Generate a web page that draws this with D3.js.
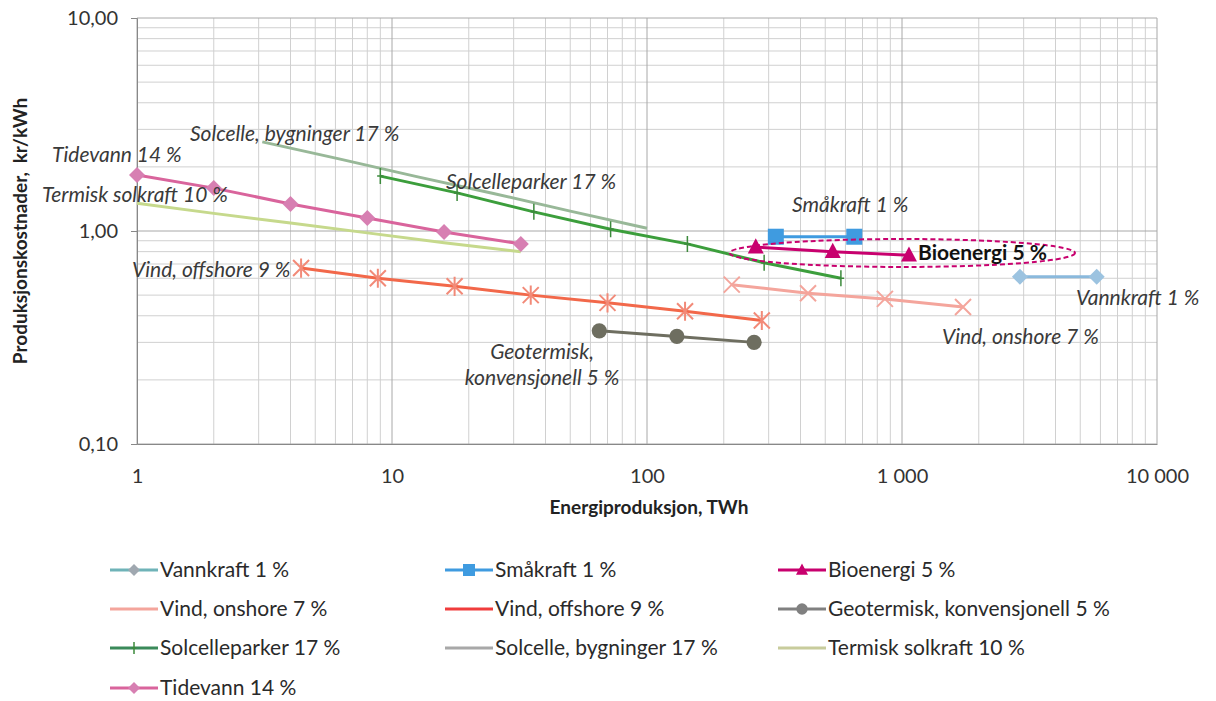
<!DOCTYPE html>
<html lang="no">
<head>
<meta charset="UTF-8">
<title>Produksjonskostnader</title>
<script src="https://d3js.org/d3.v7.min.js"></script>
<style>
  body { margin: 0; background: #fff; }
  text { font-family: Lato, "Open Sans", sans-serif; fill: #333; }
  .lbl { font-size: 21px; font-style: italic; fill: #3a3a3a; }
  .tick text { font-size: 20px; fill: #333; }
  .legend text { font-size: 21px; fill: #2a2a2a; }
</style>
</head>
<body>
<script>
// series data: energy production (TWh) vs production cost (kr/kWh)
const vannkraftX = [2900, 5800];
const vannkraftY = [0.61, 0.61];
const smakraftX = [320, 650];
const smakraftY = [0.94, 0.94];
const bioenergiX = [267, 535, 1065];
const bioenergiY = [0.84, 0.80, 0.77];
const onshoreX = [215, 428, 857, 1735];
const onshoreY = [0.56, 0.51, 0.48, 0.44];
const offshoreX = [4.4, 8.8, 17.6, 35, 70, 141, 282];
const offshoreY = [0.67, 0.60, 0.55, 0.50, 0.46, 0.42, 0.38];
const geoX = [65, 131, 263];
const geoY = [0.34, 0.32, 0.30];
const parkerX = [9, 18, 36, 72, 144, 288, 576];
const parkerY = [1.81, 1.51, 1.23, 1.02, 0.87, 0.71, 0.60];
const bygningX = [3.1, 6.2, 12.5, 25, 50, 100];
const bygningY = [2.62, 2.18, 1.80, 1.50, 1.24, 1.03];
const termiskX = [1, 2, 4, 8, 16, 32];
const termiskY = [1.35, 1.21, 1.09, 0.98, 0.88, 0.80];
const tidevannX = [1, 2, 4, 8, 16, 32];
const tidevannY = [1.83, 1.59, 1.34, 1.15, 0.99, 0.87];

const xTicks = [1, 10, 100, 1000, 10000];
const xTickLabels = ["1", "10", "100", "1 000", "10 000"];
const yTicks = [0.1, 1, 10];
const yTickLabels = ["0,10", "1,00", "10,00"];

const series = [
  {name: "Vannkraft 1 %", x: vannkraftX, y: vannkraftY, color: "#8ab9dc", legendColor: "#6fb3b8", marker: "diamond", mcolor: "#9cc3e0", lmcolor: "#a0a8b0", w: 3},
  {name: "Småkraft 1 %", x: smakraftX, y: smakraftY, color: "#3f9be0", marker: "square", mcolor: "#3f9be0", w: 3},
  {name: "Bioenergi 5 %", x: bioenergiX, y: bioenergiY, color: "#c8006e", marker: "triangle", mcolor: "#c8006e", w: 3},
  {name: "Vind, onshore 7 %", x: onshoreX, y: onshoreY, color: "#f4a59c", marker: "x", mcolor: "#f4a59c", noLegendMarker: true, w: 3},
  {name: "Vind, offshore 9 %", x: offshoreX, y: offshoreY, color: "#f2684a", legendColor: "#f03c3c", marker: "star", mcolor: "#f28a78", noLegendMarker: true, w: 3},
  {name: "Geotermisk, konvensjonell 5 %", x: geoX, y: geoY, color: "#6e6e60", legendColor: "#808080", marker: "circle", mcolor: "#6e6e60", lmcolor: "#808080", w: 3},
  {name: "Solcelleparker 17 %", x: parkerX, y: parkerY, color: "#3c9e3c", legendColor: "#3a8a5a", marker: "plus", mcolor: "#3c8a3c", w: 3},
  {name: "Solcelle, bygninger 17 %", x: bygningX, y: bygningY, color: "#98b898", legendColor: "#a8a8a8", marker: null, w: 3},
  {name: "Termisk solkraft 10 %", x: termiskX, y: termiskY, color: "#c6d98c", legendColor: "#c8cc9c", marker: null, w: 3},
  {name: "Tidevann 14 %", x: tidevannX, y: tidevannY, color: "#d9649c", marker: "diamond", mcolor: "#d77fb2", w: 3}
];

const width = 1216, height = 701;
const margin = {left: 137, top: 18, right: 59, bottom: 257};
const pw = width - margin.left - margin.right;
const ph = height - margin.top - margin.bottom;

const svg = d3.select("body").append("svg")
  .attr("width", width).attr("height", height);

const x = d3.scaleLog().domain([1, 10000]).range([0, pw]);
const y = d3.scaleLog().domain([0.1, 10]).range([ph, 0]);

const g = svg.append("g").attr("transform", `translate(${margin.left},${margin.top})`);

// minor + major grid
const minorX = [], minorY = [];
for (let d = 1; d < 10000; d *= 10) for (let k = 2; k <= 9; k++) minorX.push(d * k);
for (let d = 0.1; d < 9; d *= 10) for (let k = 2; k <= 9; k++) minorY.push(d * k);

g.append("g").selectAll("line").data(minorX).join("line")
  .attr("x1", d => x(d)).attr("x2", d => x(d)).attr("y1", 0).attr("y2", ph)
  .attr("stroke", "#d0d0d0").attr("stroke-width", 1);
g.append("g").selectAll("line").data(minorY).join("line")
  .attr("y1", d => y(d)).attr("y2", d => y(d)).attr("x1", 0).attr("x2", pw)
  .attr("stroke", "#d0d0d0").attr("stroke-width", 1);
g.append("g").selectAll("line").data(xTicks).join("line")
  .attr("x1", d => x(d)).attr("x2", d => x(d)).attr("y1", 0).attr("y2", ph)
  .attr("stroke", "#a8a8a8").attr("stroke-width", 1);
g.append("g").selectAll("line").data(yTicks).join("line")
  .attr("y1", d => y(d)).attr("y2", d => y(d)).attr("x1", 0).attr("x2", pw)
  .attr("stroke", "#a8a8a8").attr("stroke-width", 1);

// axes
const xAxis = g.append("g").attr("transform", `translate(0,${ph})`)
  .call(d3.axisBottom(x).tickValues(xTicks).tickFormat((d, i) => xTickLabels[i]).tickSize(0).tickPadding(25));
xAxis.select(".domain").attr("stroke", "#888");
const yAxis = g.append("g")
  .call(d3.axisLeft(y).tickValues(yTicks).tickFormat((d, i) => yTickLabels[i]).tickSize(6).tickPadding(13));
yAxis.select(".domain").attr("stroke", "#888");
yAxis.selectAll(".tick line").attr("stroke", "#888");

svg.append("text")
  .attr("transform", `translate(27,${margin.top + y(1)}) rotate(-90)`)
  .attr("text-anchor", "middle")
  .style("font-size", "19px").style("font-weight", "bold").style("fill", "#222")
  .style("word-spacing", "4px")
  .text("Produksjonskostnader,  kr/kWh");
svg.append("text")
  .attr("x", margin.left + pw / 2 + 2).attr("y", 514)
  .attr("text-anchor", "middle")
  .style("font-size", "19px").style("font-weight", "bold").style("fill", "#222")
  .text("Energiproduksjon, TWh");

// markers
function drawMarker(sel, type, color, s) {
  if (type === "diamond") sel.append("path").attr("d", `M0,${-s}L${s},0L0,${s}L${-s},0Z`).attr("fill", color);
  else if (type === "square") sel.append("rect").attr("x", -s).attr("y", -s).attr("width", s * 2).attr("height", s * 2).attr("fill", color);
  else if (type === "triangle") sel.append("path").attr("d", `M0,${-s * 1.1}L${s},${s * 0.8}L${-s},${s * 0.8}Z`).attr("fill", color);
  else if (type === "circle") sel.append("circle").attr("r", s * 0.95).attr("fill", color);
  else if (type === "x") sel.append("path").attr("d", `M${-s},${-s}L${s},${s}M${-s},${s}L${s},${-s}`).attr("stroke", color).attr("stroke-width", 2);
  else if (type === "star") sel.append("path").attr("d", `M${-s},${-s}L${s},${s}M${-s},${s}L${s},${-s}M0,${-s * 1.2}L0,${s * 1.2}`).attr("stroke", color).attr("stroke-width", 2);
  else if (type === "plus") sel.append("path").attr("d", `M0,${-s}L0,${s}M${-s * 0.4},0L${s * 0.4},0`).attr("stroke", color).attr("stroke-width", 1.5);
}

const line = d3.line().x(d => x(d[0])).y(d => y(d[1]));
const drawOrder = [7, 8, 6, 9, 4, 3, 5, 0, 1, 2];
drawOrder.forEach(i => {
  const s = series[i];
  const pts = s.x.map((v, j) => [v, s.y[j]]);
  g.append("path").datum(pts).attr("d", line)
    .attr("fill", "none").attr("stroke", s.color).attr("stroke-width", s.w);
  if (s.marker) {
    g.append("g").selectAll("g").data(pts).join("g")
      .attr("transform", d => `translate(${x(d[0])},${y(d[1])})`)
      .each(function() { drawMarker(d3.select(this), s.marker, s.mcolor, 8); });
  }
});

// dashed ellipse around bioenergi
const ellipseX = [211, 4770];
const ellipseY = [0.678, 0.917];
const ex0 = x(ellipseX[0]), ex1 = x(ellipseX[1]);
const ey0 = y(ellipseY[1]), ey1 = y(ellipseY[0]);
g.append("ellipse")
  .attr("cx", (ex0 + ex1) / 2).attr("cy", (ey0 + ey1) / 2)
  .attr("rx", (ex1 - ex0) / 2).attr("ry", (ey1 - ey0) / 2)
  .attr("fill", "none").attr("stroke", "#c8006e").attr("stroke-width", 2)
  .attr("stroke-dasharray", "5,3");

// in-chart labels (pixel positions)
const labels = [
  {t: "Solcelle, bygninger 17 %", px: 190, py: 141},
  {t: "Tidevann 14 %", px: 52, py: 162},
  {t: "Termisk solkraft 10 %", px: 42, py: 202},
  {t: "Solcelleparker 17 %", px: 446, py: 189},
  {t: "Småkraft 1 %", px: 792, py: 212},
  {t: "Vind, offshore 9 %", px: 132, py: 277},
  {t: "Vannkraft 1 %", px: 1076, py: 305},
  {t: "Vind, onshore 7 %", px: 942, py: 344},
  {t: "Geotermisk,", px: 542, py: 359, anchor: "middle"},
  {t: "konvensjonell 5 %", px: 542, py: 385, anchor: "middle"}
];
svg.append("g").selectAll("text").data(labels).join("text")
  .attr("class", "lbl")
  .attr("x", d => d.px).attr("y", d => d.py)
  .attr("text-anchor", d => d.anchor || "start")
  .text(d => d.t);
svg.append("text")
  .attr("x", 918).attr("y", 260)
  .style("font-size", "21px").style("font-weight", "bold").style("fill", "#111")
  .text("Bioenergi 5 %");

// legend
const colX = [110, 445, 778];
const rowY = [570, 609, 648, 688];
const legend = svg.append("g").attr("class", "legend");
series.forEach((s, i) => {
  const lg = legend.append("g")
    .attr("transform", `translate(${colX[i % 3]},${rowY[Math.floor(i / 3)]})`);
  lg.append("line").attr("x1", 0).attr("x2", 48).attr("y1", 0).attr("y2", 0)
    .attr("stroke", s.legendColor || s.color).attr("stroke-width", 3);
  if (s.marker && !s.noLegendMarker) {
    const m = lg.append("g").attr("transform", "translate(24,0)");
    drawMarker(m, s.marker, s.lmcolor || s.mcolor, 6);
  }
  lg.append("text").attr("x", 50).attr("y", 7).text(s.name);
});
</script>
</body>
</html>
